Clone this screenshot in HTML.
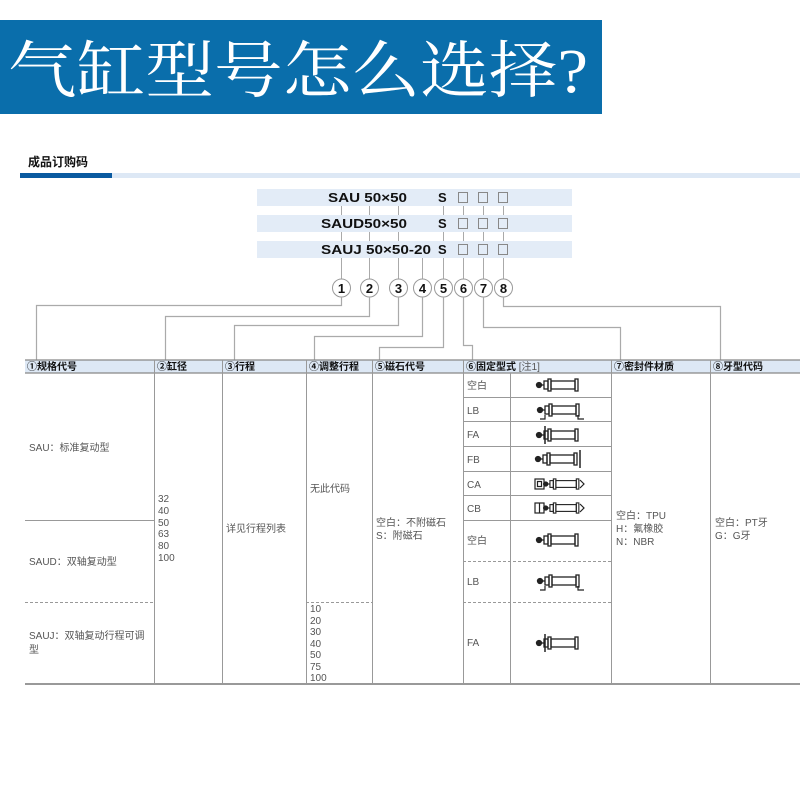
<!DOCTYPE html>
<html><head><meta charset="utf-8"><style>
html,body{margin:0;padding:0;background:#fff;width:800px;height:800px;overflow:hidden}
svg{position:absolute;left:0;top:0}
</style></head><body>
<svg width="800" height="800" viewBox="0 0 800 800" xmlns="http://www.w3.org/2000/svg" font-family="Liberation Sans, Noto Sans CJK SC, sans-serif">
<defs>
<g id="cyl" fill="none" stroke="#222" stroke-width="1.3">
  <circle cx="2" cy="0" r="2.5" fill="#222"/>
  <line x1="4" y1="0" x2="7" y2="0"/>
  <rect x="7" y="-4" width="4" height="8"/>
  <rect x="11" y="-6" width="3" height="12"/>
  <rect x="14" y="-4" width="24" height="8"/>
  <rect x="38" y="-6" width="3" height="12"/>
</g>
</defs>
<rect x="0" y="20" width="602" height="94" fill="#0a6eab"/>
<text x="8" y="92" font-family="Liberation Serif, Noto Serif CJK SC, serif" font-size="62" fill="#fff" textLength="580" lengthAdjust="spacingAndGlyphs">气缸型号怎么选择?</text>

<text x="28" y="166" font-size="12" font-weight="bold" fill="#111">成品订购码</text>
<rect x="20" y="173" width="780" height="5" fill="#dde8f5"/>
<rect x="20" y="173" width="92" height="5" fill="#0a5aa0"/>

<g fill="#e3ecf7"><rect x="257" y="189" width="315" height="17"/><rect x="257" y="215" width="315" height="17"/><rect x="257" y="241" width="315" height="17"/></g>
<g font-size="13" font-weight="bold" fill="#111">
<text x="328" y="202" textLength="79" lengthAdjust="spacingAndGlyphs">SAU 50×50</text>
<text x="321" y="228" textLength="86" lengthAdjust="spacingAndGlyphs">SAUD50×50</text>
<text x="321" y="254" textLength="110" lengthAdjust="spacingAndGlyphs">SAUJ 50×50-20</text>
<text x="438" y="202">S</text><text x="438" y="228">S</text><text x="438" y="254">S</text>
</g>
<g fill="none" stroke="#888" stroke-width="1">
<rect x="458.5" y="192.5" width="9" height="10"/><rect x="478.5" y="192.5" width="9" height="10"/><rect x="498.5" y="192.5" width="9" height="10"/>
<rect x="458.5" y="218.5" width="9" height="10"/><rect x="478.5" y="218.5" width="9" height="10"/><rect x="498.5" y="218.5" width="9" height="10"/>
<rect x="458.5" y="244.5" width="9" height="10"/><rect x="478.5" y="244.5" width="9" height="10"/><rect x="498.5" y="244.5" width="9" height="10"/>
</g>
<g stroke="#aaa" stroke-width="1">
<path d="M341.5 206V215M369.5 206V215M398.5 206V215M443.5 206V215M463.5 206V215M483.5 206V215M503.5 206V215"/>
<path d="M341.5 232V241M369.5 232V241M398.5 232V241M443.5 232V241M463.5 232V241M483.5 232V241M503.5 232V241"/>
<path d="M341.5 258V279M369.5 258V279M398.5 258V279M422.5 258V279M443.5 258V279M463.5 258V279M483.5 258V279M503.5 258V279"/>
</g>
<g fill="#fff" stroke="#999" stroke-width="1">
<circle cx="341.5" cy="288" r="9"/><circle cx="369.5" cy="288" r="9"/><circle cx="398.5" cy="288" r="9"/><circle cx="422.5" cy="288" r="9"/><circle cx="443.5" cy="288" r="9"/><circle cx="463.5" cy="288" r="9"/><circle cx="483.5" cy="288" r="9"/><circle cx="503.5" cy="288" r="9"/>
</g>
<g font-size="13" font-weight="bold" fill="#111" text-anchor="middle">
<text x="341.5" y="293">1</text><text x="369.5" y="293">2</text><text x="398.5" y="293">3</text><text x="422.5" y="293">4</text><text x="443.5" y="293">5</text><text x="463.5" y="293">6</text><text x="483.5" y="293">7</text><text x="503.5" y="293">8</text>
</g>
<g fill="none" stroke="#aaa" stroke-width="1.2">
<path d="M341.5 297V305.5H36.5V360"/>
<path d="M369.5 297V316.5H165.5V360"/>
<path d="M398.5 297V325.5H234.5V360"/>
<path d="M422.5 297V336.5H314.5V360"/>
<path d="M443.5 297V347.5H379.5V360"/>
<path d="M463.5 297V345.5H472.5V360"/>
<path d="M483.5 297V327.5H620.5V360"/>
<path d="M503.5 297V306.5H720.5V360"/>
</g>

<rect x="25" y="360" width="775" height="13" fill="#dde8f5"/>
<g stroke="#888" stroke-width="1.3"><line x1="25" y1="360" x2="800" y2="360"/><line x1="25" y1="373" x2="800" y2="373"/><line x1="25" y1="684" x2="800" y2="684" stroke="#999" stroke-width="2"/></g>
<g stroke="#999" stroke-width="1">
<path d="M154.5 360V684M222.5 360V684M306.5 360V684M372.5 360V684M463.5 360V684M611.5 360V684M710.5 360V684"/>
<path d="M510.5 373V684"/>
<path d="M463 397.5H611M463 421.5H611M463 446.5H611M463 471.5H611M463 495.5H611M463 520.5H611"/>
<path d="M25 520.5H154"/>
</g>
<g stroke="#999" stroke-width="1" stroke-dasharray="3,2">
<path d="M25 602.5H154M306 602.5H372M463 602.5H611M463 561.5H611"/>
</g>
<g font-size="10" font-weight="bold" fill="#111">
<text x="27" y="370">①规格代号</text>
<text x="157" y="370">②缸径</text>
<text x="225" y="370">③行程</text>
<text x="309" y="370">④调整行程</text>
<text x="375" y="370">⑤磁石代号</text>
<text x="466" y="370">⑥固定型式 <tspan font-weight="normal" fill="#555">[注1]</tspan></text>
<text x="614" y="370">⑦密封件材质</text>
<text x="713" y="370">⑧牙型代码</text>
</g>
<g font-size="10" fill="#555">
<text x="29" y="451">SAU：标准复动型</text>
<text x="29" y="565">SAUD：双轴复动型</text>
<text x="29" y="639">SAUJ：双轴复动行程可调</text>
<text x="29" y="653">型</text>
<text x="158" y="502">32</text><text x="158" y="514">40</text><text x="158" y="526">50</text><text x="158" y="537">63</text><text x="158" y="549">80</text><text x="158" y="561">100</text>
<text x="226" y="532">详见行程列表</text>
<text x="310" y="492">无此代码</text>
<text x="310" y="612">10</text><text x="310" y="624">20</text><text x="310" y="635">30</text><text x="310" y="647">40</text><text x="310" y="658">50</text><text x="310" y="670">75</text><text x="310" y="681">100</text>
<text x="376" y="526">空白：不附磁石</text><text x="376" y="539">S：附磁石</text>
<text x="467" y="389">空白</text><text x="467" y="414">LB</text><text x="467" y="438">FA</text><text x="467" y="463">FB</text><text x="467" y="488">CA</text><text x="467" y="512">CB</text><text x="467" y="544">空白</text><text x="467" y="585">LB</text><text x="467" y="646">FA</text>
<text x="616" y="519">空白：TPU</text><text x="616" y="532">H：氟橡胶</text><text x="616" y="545">N：NBR</text>
<text x="715" y="526">空白：PT牙</text><text x="715" y="539">G：G牙</text>
</g>
<use href="#cyl" x="537" y="385"/>
<use href="#cyl" x="538" y="410"/>
<path d="M545 415V419H540M578 415V419H584" fill="none" stroke="#222" stroke-width="1.2"/>
<use href="#cyl" x="537" y="435"/>
<line x1="545" y1="426" x2="545" y2="444" stroke="#222" stroke-width="1.5"/>
<use href="#cyl" x="536" y="459"/>
<line x1="580" y1="450" x2="580" y2="468" stroke="#222" stroke-width="1.5"/>
<g fill="none" stroke="#222" stroke-width="1.2">
<rect x="535" y="479" width="9" height="10"/><rect x="537.5" y="481.5" width="4" height="5"/>
<rect x="535" y="503" width="9" height="10"/><line x1="539.5" y1="503" x2="539.5" y2="513"/>
<path d="M580 480L584 484L580 488M580 504L584 508L580 512"/>
</g>
<use href="#cyl" x="544" y="484" transform="translate(544 484) scale(0.85) translate(-544 -484)"/>
<use href="#cyl" x="544" y="508" transform="translate(544 508) scale(0.85) translate(-544 -508)"/>
<use href="#cyl" x="537" y="540"/>
<use href="#cyl" x="538" y="581"/>
<path d="M545 586V590H540M578 586V590H584" fill="none" stroke="#222" stroke-width="1.2"/>
<use href="#cyl" x="537" y="643"/>
<line x1="545" y1="634" x2="545" y2="652" stroke="#222" stroke-width="1.5"/>
</svg>
</body></html>
